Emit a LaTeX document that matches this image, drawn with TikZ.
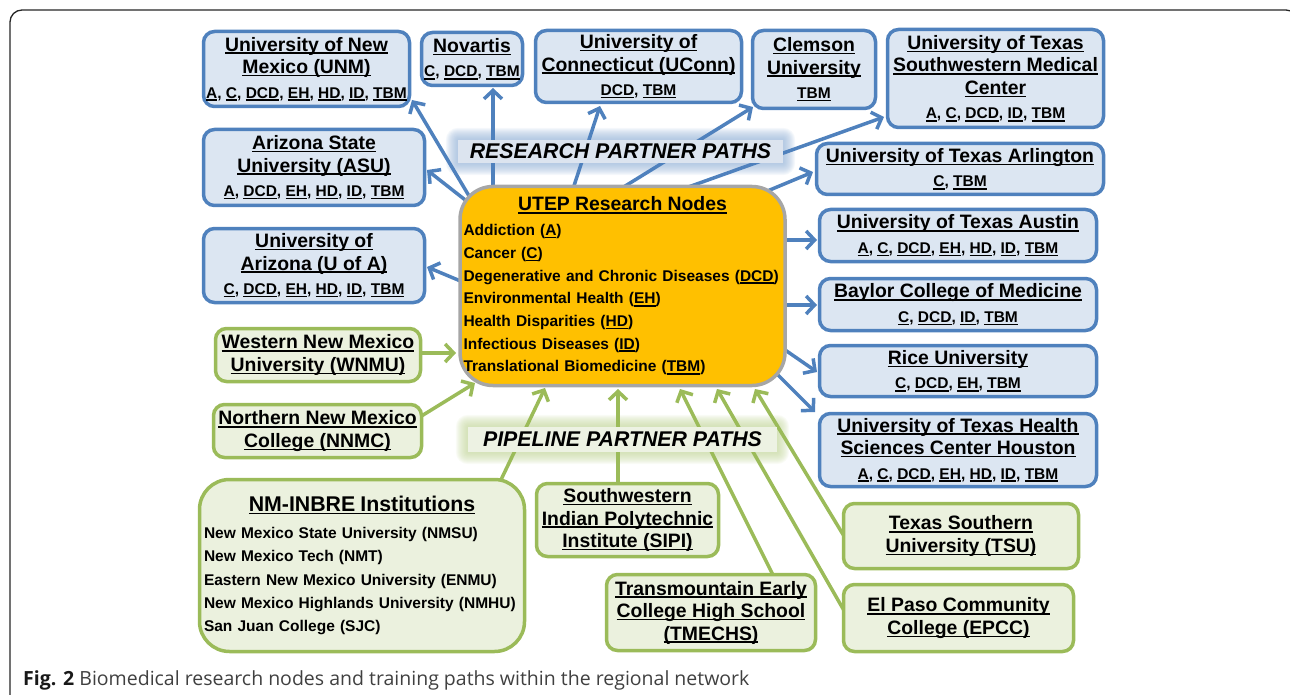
\documentclass[tikz,border=0pt]{standalone}
\usepackage{fontspec}
\setmainfont{Liberation Sans}
\newfontfamily\capfont{Open Sans}
\usetikzlibrary{arrows.meta,calc}
\definecolor{bbord}{HTML}{4F81BD}
\definecolor{bfill}{HTML}{DCE6F2}
\definecolor{gbord}{HTML}{9BBB59}
\definecolor{gfill}{HTML}{EBF1DE}
\definecolor{ufill}{HTML}{FFC000}
\definecolor{ubord}{HTML}{A6A6A6}
\definecolor{glowb}{HTML}{95B3D7}
\definecolor{glowg}{HTML}{C3D69B}
\definecolor{rlabfill}{HTML}{DCE4EF}
\definecolor{plabfill}{HTML}{EDF2E3}
\definecolor{capgray}{HTML}{404040}
\newcommand\myul[1]{\leavevmode\setbox0=\hbox{#1}\rlap{\rule[-2.8pt]{\wd0}{1.5pt}}\box0}
\newcommand\tsz{\fontsize{19.4}{22.5}\selectfont\bfseries}
\newcommand\asz{\fontsize{15.5}{18}\selectfont\bfseries}
\newcommand\isz{\fontsize{15.5}{22.7}\selectfont\bfseries}
\pgfdeclarelayer{glow}
\pgfdeclarelayer{arrows}
\pgfsetlayers{glow,arrows,main}
\tikzset{
  bbox/.style={draw=bbord, fill=bfill, line width=3.5pt, rounded corners=11pt, align=center, inner sep=2pt, font=\tsz},
  gbox/.style={draw=gbord, fill=gfill, line width=3.5pt, rounded corners=11pt, align=center, inner sep=2pt, font=\tsz},
  barr/.style={draw=bbord, line width=3.5pt, -{Straight Barb[length=8.5pt,width=18pt]}},
  garr/.style={draw=gbord, line width=3.5pt, -{Straight Barb[length=8.5pt,width=18pt]}},
  pathlabel/.style={inner sep=0pt, font=\fontsize{21.3}{24}\selectfont\bfseries\itshape},
}
\begin{document}
\begin{tikzpicture}[x=1pt,y=-1pt]
\useasboundingbox (0,0) rectangle (1290,695);
% frame
\draw[line width=1.3pt, rounded corners=12pt, black!85] (10,720) -- (10,10) -- (1298,10) -- (1298,720);

% central node
\node[draw=ubord, fill=ufill, line width=3.5pt, rounded corners=33pt, text width=321pt, inner xsep=2pt, inner ysep=0pt, minimum height=199, align=left, font=\isz] (utep) at (622.5,286)
 {\noindent\makebox[\hsize]{\tsz\myul{UTEP Research Nodes}}\\[2pt]
  \hspace*{1.5pt}Addiction (\myul{A})\\
  \hspace*{1.5pt}Cancer (\myul{C})\\
  \hspace*{1.5pt}Degenerative and Chronic Diseases (\myul{DCD})\\
  \hspace*{1.5pt}Environmental Health (\myul{EH})\\
  \hspace*{1.5pt}Health Disparities (\myul{HD})\\
  \hspace*{1.5pt}Infectious Diseases (\myul{ID})\\
  \hspace*{1.5pt}Translational Biomedicine (\myul{TBM})};

% research partners
\node[bbox, minimum width=206, minimum height=75] (unm) at (306.5,69)
 {\myul{University of New}\\\myul{Mexico (UNM)}\\[2pt]{\asz\myul{A}, \myul{C}, \myul{DCD}, \myul{EH}, \myul{HD}, \myul{ID}, \myul{TBM}}};
\node[bbox, minimum width=101, minimum height=53] (nov) at (472,59)
 {\myul{Novartis}\\[2pt]{\asz\myul{C}, \myul{DCD}, \myul{TBM}}};
\node[bbox, minimum width=206, minimum height=72] (ucon) at (638.5,66.5)
 {\myul{University of}\\\myul{Connecticut (UConn)}\\[2pt]{\asz\myul{DCD}, \myul{TBM}}};
\node[bbox, minimum width=123, minimum height=78] (clem) at (814,69.5)
 {\myul{Clemson}\\\myul{University}\\[2pt]{\asz\myul{TBM}}};
\node[bbox, minimum width=216, minimum height=98] (utsw) at (995.5,78.5)
 {\myul{University of Texas}\\\myul{Southwestern Medical}\\\myul{Center}\\[2pt]{\asz\myul{A}, \myul{C}, \myul{DCD}, \myul{ID}, \myul{TBM}}};
\node[bbox, minimum width=287, minimum height=51] (uta) at (960,169)
 {\myul{University of Texas Arlington}\\[2pt]{\asz\myul{C}, \myul{TBM}}};
\node[bbox, minimum width=221, minimum height=76] (asu) at (314,167.5)
 {\myul{Arizona State}\\\myul{University (ASU)}\\[2pt]{\asz\myul{A}, \myul{DCD}, \myul{EH}, \myul{HD}, \myul{ID}, \myul{TBM}}};
\node[bbox, minimum width=221, minimum height=74] (uofa) at (314,265.5)
 {\myul{University of}\\\myul{Arizona (U of A)}\\[2pt]{\asz\myul{C}, \myul{DCD}, \myul{EH}, \myul{HD}, \myul{ID}, \myul{TBM}}};
\node[bbox, minimum width=277, minimum height=52] (utau) at (958,235.5)
 {\myul{University of Texas Austin}\\[2pt]{\asz\myul{A}, \myul{C}, \myul{DCD}, \myul{EH}, \myul{HD}, \myul{ID}, \myul{TBM}}};
\node[bbox, minimum width=277, minimum height=52] (bay) at (958,304.5)
 {\myul{Baylor College of Medicine}\\[2pt]{\asz\myul{C}, \myul{DCD}, \myul{ID}, \myul{TBM}}};
\node[bbox, minimum width=277, minimum height=51] (rice) at (958,371)
 {\myul{Rice University}\\[2pt]{\asz\myul{C}, \myul{DCD}, \myul{EH}, \myul{TBM}}};
\node[bbox, minimum width=277, minimum height=73] (uth) at (958,450)
 {\myul{University of Texas Health}\\\myul{Sciences Center Houston}\\[2pt]{\asz\myul{A}, \myul{C}, \myul{DCD}, \myul{EH}, \myul{HD}, \myul{ID}, \myul{TBM}}};

% pipeline partners
\node[gbox, minimum width=205, minimum height=53] (wnmu) at (318,355)
 {\myul{Western New Mexico}\\\myul{University (WNMU)}};
\node[gbox, minimum width=208, minimum height=53] (nnmc) at (317.5,431)
 {\myul{Northern New Mexico}\\\myul{College (NNMC)}};
\node[gbox, rounded corners=30pt, text width=316pt, inner xsep=4.5pt, inner ysep=0pt, minimum height=172, align=left, font=\fontsize{15.5}{23.3}\selectfont\bfseries] (inbre) at (362,565.5)
 {\noindent\makebox[\hsize]{\fontsize{21.3}{24}\selectfont\myul{NM-INBRE Institutions}}\\[3.6pt]
  New Mexico State University (NMSU)\\
  New Mexico Tech (NMT)\\
  Eastern New Mexico University (ENMU)\\
  New Mexico Highlands University (NMHU)\\
  San Juan College (SJC)};
\node[gbox, minimum width=182, minimum height=73] (sipi) at (627.5,520)
 {\myul{Southwestern}\\\myul{Indian Polytechnic}\\\myul{Institute (SIPI)}};
\node[gbox, minimum width=209, minimum height=76] (tme) at (711,612.5)
 {\myul{Transmountain Early}\\\myul{College High School}\\\myul{(TMECHS)}};
\node[gbox, minimum width=235, minimum height=65] (tsu) at (961,536)
 {\myul{Texas Southern}\\\myul{University (TSU)}};
\node[gbox, minimum width=230, minimum height=67] (epcc) at (958.5,618)
 {\myul{El Paso Community}\\\myul{College (EPCC)}};

% path labels
\node[pathlabel, fill=rlabfill, minimum width=325, minimum height=23] (rlab) at (620.5,151.5) {RESEARCH PARTNER PATHS};
\node[pathlabel, fill=plabfill, minimum width=309, minimum height=25] (plab) at (622.5,439.5) {PIPELINE PARTNER PATHS};

\begin{pgfonlayer}{glow}
\foreach \k in {1,...,12} {
  \fill[glowb, opacity=0.09, rounded corners=\k pt] ([shift={(-\k,-\k)}]rlab.north west) rectangle ([shift={(\k,\k)}]rlab.south east);
  \fill[glowg, opacity=0.09, rounded corners=\k pt] ([shift={(-\k,-\k)}]plab.north west) rectangle ([shift={(\k,\k)}]plab.south east);
}
\end{pgfonlayer}

\begin{pgfonlayer}{arrows}
\draw[barr] ([shift={(-147.5,-80)}]utep.center) -- ([shift={(105.5,31)}]unm.center);
\draw[barr] ([shift={(-129.5,-91)}]utep.center) -- ([shift={(21,29)}]nov.center);
\draw[barr] ([shift={(-51.5,-91)}]utep.center) -- ([shift={(-38.5,39.5)}]ucon.center);
\draw[barr] ([shift={(-0.5,-98)}]utep.center) -- ([shift={(-61,37.5)}]clem.center);
\draw[barr] ([shift={(57.5,-96)}]utep.center) -- ([shift={(-111.5,38.5)}]utsw.center);
\draw[barr] ([shift={(142.5,-94)}]utep.center) -- ([shift={(-147,3)}]uta.center);
\draw[barr] ([shift={(-144.5,-76)}]utep.center) -- ([shift={(113,2.5)}]asu.center);
\draw[barr] ([shift={(-152.5,-1)}]utep.center) -- ([shift={(113,1.5)}]uofa.center);
\draw[barr] ([shift={(152.5,-46)}]utep.center) -- ([shift={(-141,4.5)}]utau.center);
\draw[barr] ([shift={(152.5,19)}]utep.center) -- ([shift={(-141,0.5)}]bay.center);
\draw[barr] ([shift={(152.5,57)}]utep.center) -- ([shift={(-141,1)}]rice.center);
\draw[barr] ([shift={(147.5,81)}]utep.center) -- ([shift={(-143,-38)}]uth.center);
\draw[garr] ([shift={(97,-2)}]wnmu.center) -- ([shift={(-166.5,67)}]utep.center);
\draw[garr] ([shift={(97.5,-11)}]nnmc.center) -- ([shift={(-147.5,97)}]utep.center);
\draw[garr] ([shift={(136,-79.5)}]inbre.center) -- ([shift={(-77.5,102)}]utep.center);
\draw[garr] ([shift={(-9.5,-30)}]sipi.center) -- ([shift={(-4.5,103)}]utep.center);
\draw[garr] ([shift={(65,-31.5)}]tme.center) -- ([shift={(57.5,103)}]utep.center);
\draw[garr] ([shift={(-108.5,3)}]epcc.center) -- ([shift={(94.5,103)}]utep.center);
\draw[garr] ([shift={(-111,10)}]tsu.center) -- ([shift={(132.5,103)}]utep.center);
\end{pgfonlayer}

% caption
\node[anchor=base west, inner sep=0pt, font=\capfont\fontsize{19.5}{22}\selectfont, text=capgray] (cap) at (23,685)
 {{\bfseries\color{black!90}Fig. 2} Biomedical research nodes and training paths within the regional network};
\end{tikzpicture}
\end{document}
